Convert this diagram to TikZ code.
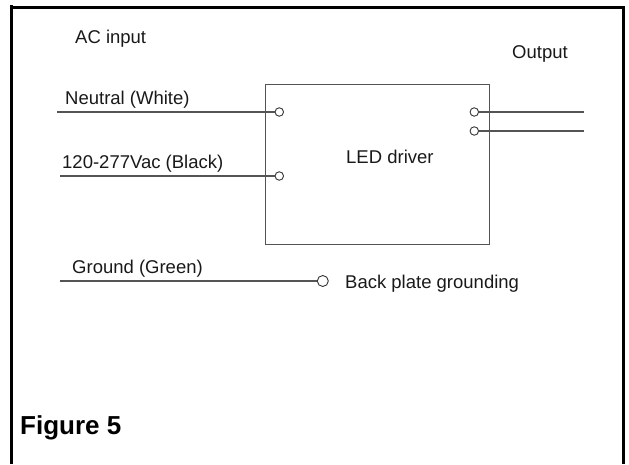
\documentclass[tikz,border=0pt]{standalone}
\usepackage{fontspec}
\setmainfont{Liberation Sans}
\definecolor{wire}{gray}{0.33}
\tikzset{
  x=1pt,y=-1pt,
  frameline/.style={line width=3pt,black},
  wireline/.style={line width=1.2pt,wire},
  term/.style={circle,draw=black!80,line width=0.9pt,fill=white,inner sep=0pt,minimum size=8.5pt},
  bigterm/.style={term,minimum size=11pt},
  label/.style={anchor=base west,inner sep=0pt,font=\fontsize{18.5}{22}\selectfont,text=black!90},
  figlabel/.style={anchor=base west,inner sep=0pt,font=\fontsize{26}{30}\selectfont\bfseries,text=black}
}
\begin{document}
\begin{tikzpicture}
\useasboundingbox (0,0) rectangle (629,464);
\draw[frameline] (11.5,5) -- (11.5,464);
\draw[frameline] (11.5,7.5) -- (623.2,7.5) -- (623.2,464);
\node[draw=wire,line width=1pt,minimum width=224pt,minimum height=160pt,inner sep=0pt,anchor=north west] (driver) at (265,84) {};
\node[label] (acinput) at (75,43) {AC input};
\node[label] (output) at (512,58) {Output};
\node[label] (neutral) at (65,104) {Neutral (White)};
\node[label] (hot) at (62,168) {120-277Vac (Black)};
\node[label] (ledlabel) at (346,163) {LED driver};
\node[label] (ground) at (72,273) {Ground (Green)};
\node[label] (plate) at (345,288) {Back plate grounding};
\node[figlabel] (fig) at (20,434) {Figure 5};
\coordinate (nstart) at (57,112);
\coordinate (hstart) at (60,176);
\coordinate (gstart) at (60,281);
\coordinate (o1end) at (584,112);
\coordinate (o2end) at (584,131);
\node[term] (tn) at (279.3,112) {};
\node[term] (th) at (279.3,176) {};
\node[bigterm] (tg) at (322.8,281) {};
\node[term] (to1) at (474.3,112) {};
\node[term] (to2) at (474.3,131) {};
\draw[wireline] (nstart) -- (tn);
\draw[wireline] (hstart) -- (th);
\draw[wireline] (gstart) -- (tg);
\draw[wireline] (to1) -- (o1end);
\draw[wireline] (to2) -- (o2end);
\end{tikzpicture}
\end{document}
